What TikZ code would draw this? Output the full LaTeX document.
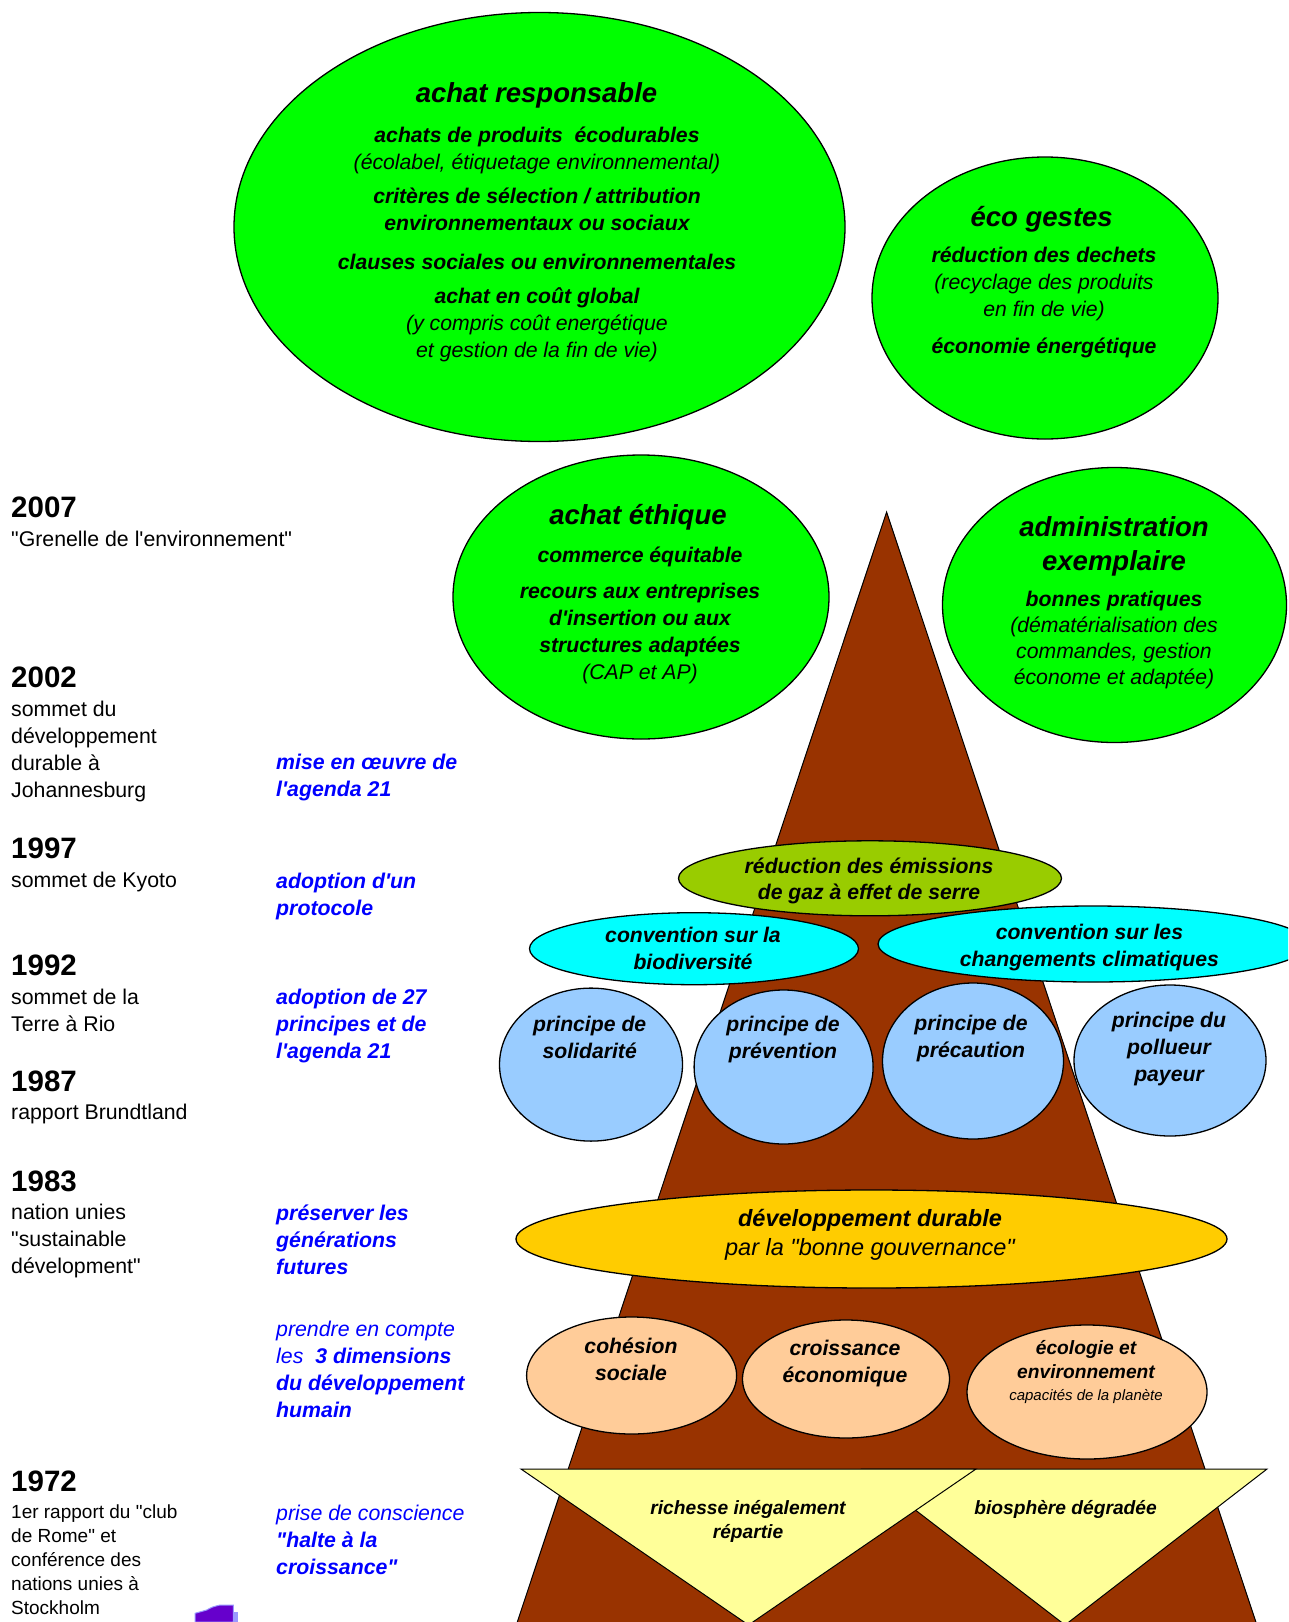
\documentclass[tikz,border=0pt]{standalone}
\usepackage{fontspec}
\setmainfont{Liberation Sans}[Ligatures=TeXOff]
\usepackage{tikz}
\usetikzlibrary{shapes,positioning}

\definecolor{vertvif}{HTML}{00FF00}
\definecolor{tronc}{HTML}{993300}
\definecolor{oliveclair}{HTML}{99CC00}
\definecolor{cyanvif}{HTML}{00FFFF}
\definecolor{bleuclair}{HTML}{99CCFF}
\definecolor{orjaune}{HTML}{FFCC00}
\definecolor{peche}{HTML}{FFCC99}
\definecolor{jaunepale}{HTML}{FFFF99}
\definecolor{bleutexte}{HTML}{0000FF}
\definecolor{violetfonce}{HTML}{6600CC}
\definecolor{violetpale}{HTML}{9999FF}

\newcommand{\pxfont}[2]{\fontsize{#1}{#2}\selectfont}

\begin{document}
\begin{tikzpicture}[x=1pt,y=-1pt,
  every node/.style={inner sep=0pt},
  bulle/.style={draw,ellipse,line width=1.3pt,inner sep=0pt},
  taille/.style 2 args={minimum width=#1pt,minimum height=#2pt},
  titre/.style={align=center,font=\pxfont{27.5}{34}\bfseries\itshape},
  corps/.style={align=center,font=\pxfont{21.2}{27}\bfseries\itshape},
  annee/.style={anchor=west,font=\pxfont{29.5}{34}\bfseries},
  evt/.style={anchor=west,align=left,font=\pxfont{21.3}{27}},
  bleu/.style={anchor=west,align=left,text=bleutexte,font=\pxfont{21.3}{27}\bfseries\itshape},
]
\useasboundingbox (0,0) rectangle (1288,1622);
\clip (0,0) rectangle (1288,1622);

% tronc
\filldraw[fill=tronc,draw=black,line width=1pt] (886.6,512) -- (511.3,1640) -- (1261.9,1640) -- cycle;

% feuillage (haut)
\node[bulle,fill=vertvif,taille={611}{429}] (achresp) at (539.5,227) {};
\node[titre] (achresp-t) at (536.5,95.5) {achat responsable};
\node[corps] (achresp-c) at (537,244.5) {achats de produits~ écodurables\\
  {\mdseries (écolabel, étiquetage environnemental)}\\[7pt]
  critères de sélection / attribution\\
  environnementaux ou sociaux\\[12pt]
  clauses sociales ou environnementales\\[7pt]
  achat en coût global\\
  {\mdseries (y compris coût energétique}\\
  {\mdseries et gestion de la fin de vie)}};

\node[bulle,fill=vertvif,taille={346}{282}] (eco) at (1045,298) {};
\node[titre] (eco-t) at (1041.7,219.5) {éco gestes};
\node[corps] (eco-c) at (1044,302) {réduction des dechets\\
  {\mdseries (recyclage des produits}\\
  {\mdseries en fin de vie)}\\[10pt]
  économie énergétique};

\node[bulle,fill=vertvif,taille={376}{284}] (ethique) at (641,597) {};
\node[titre] (ethique-t) at (638,517.5) {achat éthique};
\node[corps] (ethique-c) at (640,615) {commerce équitable\\[9pt]
  recours aux entreprises\\
  d'insertion ou aux\\
  structures adaptées\\
  {\mdseries (CAP et AP)}};

\node[bulle,fill=vertvif,taille={344}{275}] (admin) at (1114.5,605) {};
\node[titre] (admin-t) at (1114,546) {administration\\exemplaire};
\node[corps,font=\pxfont{21.2}{26.2}\bfseries\itshape] (admin-c) at (1114,640) {bonnes pratiques\\
  {\mdseries (dématérialisation des}\\
  {\mdseries commandes, gestion}\\
  {\mdseries économe et adaptée)}};

% conventions
\node[bulle,fill=oliveclair,taille={383}{75}] (gaz) at (870,878.3) {};
\node[corps,font=\pxfont{21.2}{26}\bfseries\itshape] (gaz-t) at (869,880.5) {réduction des émissions\\de gaz à effet de serre};
\node[bulle,fill=cyanvif,taille={329}{72}] (biodiv) at (694,948.7) {};
\node[corps] (biodiv-t) at (693,948) {convention sur la\\biodiversité};
\node[bulle,fill=cyanvif,taille={430}{76}] (climat) at (1093,944) {};
\node[corps] (climat-t) at (1089.4,948) {convention sur les\\changements climatiques};

% principes
\node[bulle,fill=bleuclair,taille={183}{153}] (psol) at (591,1064.6) {};
\node[corps] (psol-t) at (589.7,1037.5) {principe de\\solidarité};
\node[bulle,fill=bleuclair,taille={179}{154}] (pprev) at (783.6,1067) {};
\node[corps] (pprev-t) at (783,1040) {principe de\\prévention};
\node[bulle,fill=bleuclair,taille={181}{156}] (pprec) at (973,1061) {};
\node[corps] (pprec-t) at (971,1038.5) {principe de\\précaution};
\node[bulle,fill=bleuclair,taille={192}{151}] (ppol) at (1170,1060.5) {};
\node[corps] (ppol-t) at (1169,1049) {principe du\\pollueur\\payeur};

% developpement durable
\node[bulle,fill=orjaune,taille={711}{98}] (dd) at (871.5,1239) {};
\node[corps,font=\pxfont{23.5}{29}\itshape] (dd-t) at (870,1235) {{\bfseries développement durable}\\par la "bonne gouvernance"};

% trois dimensions
\node[bulle,fill=peche,taille={210}{117}] (social) at (631.6,1375.5) {};
\node[corps] (social-t) at (631,1359.4) {cohésion\\sociale};
\node[bulle,fill=peche,taille={207}{118}] (eco2) at (846,1379) {};
\node[corps] (eco2-t) at (845,1363.5) {croissance\\économique};
\node[bulle,fill=peche,taille={240}{134}] (ecolo) at (1087,1392) {};
\node[corps,font=\pxfont{19.2}{24}\bfseries\itshape] (ecolo-t) at (1086,1360) {écologie et\\environnement};
\node[font=\pxfont{15}{18}\itshape] (ecolo-s) at (1086,1396.6) {capacités de la planète};

% racines
\filldraw[fill=jaunepale,draw=black,line width=1pt] (862,1469) -- (1267,1469) -- (1065,1625) -- cycle;
\filldraw[fill=jaunepale,draw=black,line width=1pt] (521,1469) -- (976,1469) -- (748.5,1625) -- cycle;
\node[corps,font=\pxfont{19.2}{24}\bfseries\itshape] (richesse) at (748,1521) {richesse inégalement\\répartie};
\node[corps,font=\pxfont{19.2}{24}\bfseries\itshape] (biosphere) at (1065.6,1509.3) {biosphère dégradée};

% chronologie
\node[annee] (a2007) at (11,507) {2007};
\node[evt] (e2007) at (11,539) {"Grenelle de l'environnement"};
\node[annee] (a2002) at (11,677.6) {2002};
\node[evt] (e2002) at (11,751) {sommet du\\développement\\durable à\\Johannesburg};
\node[annee] (a1997) at (11,848.3) {1997};
\node[evt] (e1997) at (11,882.4) {sommet de Kyoto};
\node[annee] (a1992) at (11,965.2) {1992};
\node[evt] (e1992) at (11,1010.3) {sommet de la\\Terre à Rio};
\node[annee] (a1987) at (11,1081) {1987};
\node[evt] (e1987) at (11,1114) {rapport Brundtland};
\node[annee] (a1983) at (11,1181.5) {1983};
\node[evt] (e1983) at (11,1241) {nation unies\\"sustainable\\dévelopment"};
\node[annee] (a1972) at (11,1481.4) {1972};
\node[evt,font=\pxfont{19}{24.1}] (e1972) at (11,1559.6) {1er rapport du "club\\de Rome" et\\conférence des\\nations unies à\\Stockholm};

% objectifs
\node[bleu] (b2002) at (276,777.9) {mise en œuvre de\\l'agenda 21};
\node[bleu] (b1997) at (276,896) {adoption d'un\\protocole};
\node[bleu] (b1992) at (276,1026.2) {adoption de 27\\principes et de\\l'agenda 21};
\node[bleu] (b1983) at (276,1239.9) {préserver les\\générations\\futures};
\node[bleu,font=\pxfont{21.3}{27}\itshape] (bdim) at (276,1369.8) {prendre en compte\\les~ {\bfseries 3 dimensions}\\{\bfseries du développement}\\{\bfseries humain}};
\node[bleu] (b1972) at (276,1539.4) {{\mdseries prise de conscience}\\"halte à la\\croissance"};

% chiffre coupe
\filldraw[fill=violetfonce,draw=violetpale,line width=1pt] (195,1622) -- (195,1613.3) -- (206.7,1610) .. controls (212,1607) .. (220,1605) -- (233.3,1605) -- (233.3,1622) -- cycle;
\fill[violetpale] (233.3,1611.7) rectangle (238.3,1622);

\end{tikzpicture}
\end{document}
